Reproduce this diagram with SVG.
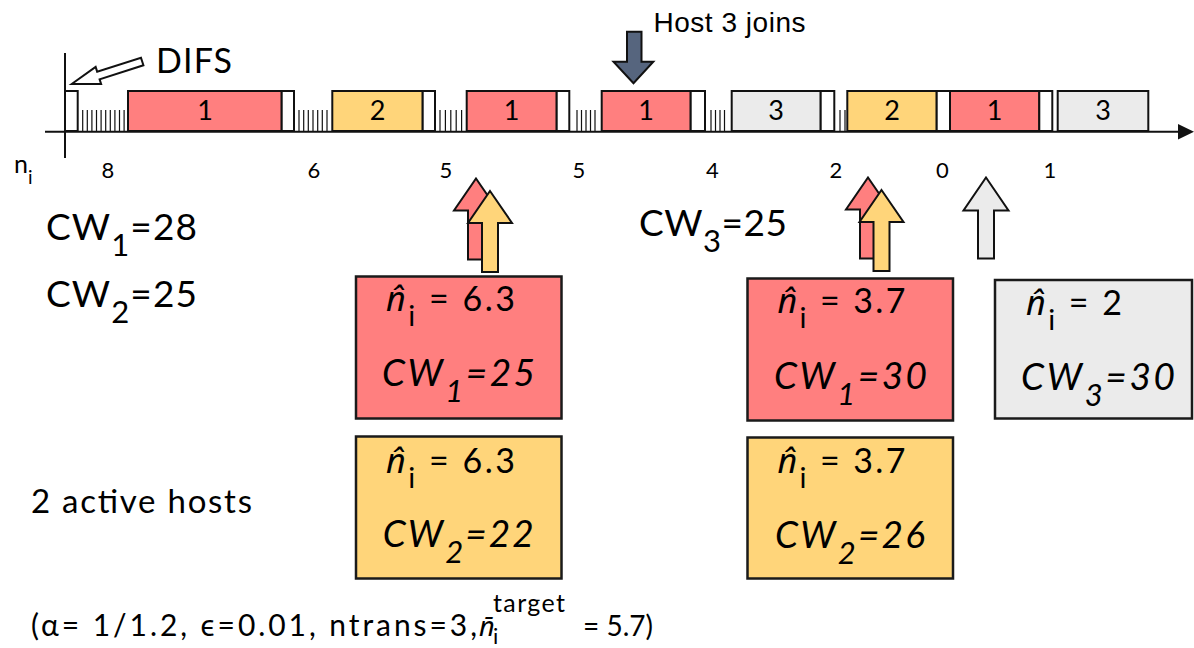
<svg xmlns="http://www.w3.org/2000/svg" width="1194" height="648" viewBox="0 0 1194 648">
<style>
.t{font-family:Lato,"Open Sans","Liberation Sans",sans-serif;fill:#000}
.it{font-style:italic}
.hat{font-family:"Noto Sans","DejaVu Sans",sans-serif;font-style:italic}
.bar{stroke:#111;stroke-width:2}
.slot{fill:#fff;stroke:#111;stroke-width:2}
.red{fill:#FF7F7F}
.yel{fill:#FFD57A}
.gry{fill:#EBEBEB}
.box{stroke:#1a1a1a;stroke-width:2.5}
.arr{stroke:#111;stroke-width:2;stroke-linejoin:miter}
.tick{stroke:#111;stroke-width:1.2;fill:none}
</style>
<rect width="1194" height="648" fill="#fff"/>

<g id="connectors">
  <line x1="45" y1="131.7" x2="1180" y2="131.7" stroke="#111" stroke-width="2"/>
  <polygon points="1178,124 1194,131.7 1178,139.5" fill="#111"/>
  <line x1="65" y1="53" x2="65" y2="158" stroke="#111" stroke-width="2"/>
  <path class="tick" d="M82.7 110V131M87.3 110V131M91.9 110V131M96.5 110V131M101.1 110V131M105.7 110V131M110.3 110V131M114.9 110V131M119.5 110V131M124.1 110V131
  M299 110V131M303.7 110V131M308.3 110V131M313 110V131M317.7 110V131M322.3 110V131M327 110V131
  M440 110V131M445.4 110V131M450.8 110V131M456.2 110V131M461.6 110V131
  M577 110V131M581.5 110V131M586 110V131M590.5 110V131M595 110V131
  M711 110V131M715.5 110V131M720 110V131M724.5 110V131
  M840 110V131M845 110V131"/>
  <polygon class="arr" fill="#fff" stroke-width="1.6" transform="translate(71.7,84) rotate(-17.7)" points="0,0 28,-9 28,-4 74,-4 74,4 28,4 28,9"/>
  <polygon class="arr" fill="#56657E" stroke-width="1.6" points="627,31.7 641.5,31.7 641.5,61.7 653.3,61.7 633.5,83.3 613.5,61.7 627,61.7"/>
  <polygon class="arr red" points="476,178.5 498,210.5 484,210.5 484,259.5 468,259.5 468,210.5 454,210.5"/>
  <polygon class="arr yel" points="490,191 512,223 498,223 498,272 482,272 482,223 468,223"/>
  <polygon class="arr red" points="868,177.5 890,209.5 876,209.5 876,258.5 860,258.5 860,209.5 846,209.5"/>
  <polygon class="arr yel" points="881.5,190 903.5,222 889.5,222 889.5,271 873.5,271 873.5,222 859.5,222"/>
  <polygon class="arr gry" points="986,177.5 1008.5,210.5 994,210.5 994,258.5 978,258.5 978,210.5 963.5,210.5"/>
</g>

<g id="difs"><rect class="slot" x="65" y="91" width="12.7" height="40"/>
<text class="t" x="156" y="72.5" font-size="34" textLength="76" lengthAdjust="spacing">DIFS</text></g>
<g id="host3label"><text x="653.5" y="31.7" font-family="Liberation Sans,Arial,sans-serif" font-size="28" textLength="152" lengthAdjust="spacing">Host 3 joins</text></g>

<g id="f1"><rect class="bar red" x="128" y="91" width="153.7" height="40"/><rect class="slot" x="281.7" y="91" width="12.3" height="40"/><text class="t" x="205" y="119.5" font-size="27" text-anchor="middle">1</text></g>
<g id="f2"><rect class="bar yel" x="332.3" y="91" width="90.4" height="40"/><rect class="slot" x="422.7" y="91" width="12.3" height="40"/><text class="t" x="377.5" y="119.5" font-size="27" text-anchor="middle">2</text></g>
<g id="f3"><rect class="bar red" x="466.7" y="91" width="90" height="40"/><rect class="slot" x="556.7" y="91" width="12.6" height="40"/><text class="t" x="511.7" y="119.5" font-size="27" text-anchor="middle">1</text></g>
<g id="f4"><rect class="bar red" x="601.7" y="91" width="89" height="40"/><rect class="slot" x="690.7" y="91" width="14.3" height="40"/><text class="t" x="646.2" y="119.5" font-size="27" text-anchor="middle">1</text></g>
<g id="f5"><rect class="bar gry" x="731.7" y="91" width="89" height="40"/><rect class="slot" x="820.7" y="91" width="13.6" height="40"/><text class="t" x="776.2" y="119.5" font-size="27" text-anchor="middle">3</text></g>
<g id="f6"><rect class="bar yel" x="847.3" y="91" width="89.4" height="40"/><rect class="slot" x="936.7" y="91" width="13.3" height="40"/><text class="t" x="892" y="119.5" font-size="27" text-anchor="middle">2</text></g>
<g id="f7"><rect class="bar red" x="950" y="91" width="89.3" height="40"/><rect class="slot" x="1039.3" y="91" width="13" height="40"/><text class="t" x="994.7" y="119.5" font-size="27" text-anchor="middle">1</text></g>
<g id="f8"><rect class="bar gry" x="1057.7" y="91" width="90.6" height="40"/><text class="t" x="1103" y="119.5" font-size="27" text-anchor="middle">3</text></g>

<g id="counters">
  <text class="t" x="14" y="173" font-size="25">n<tspan dy="11" font-size="19">i</tspan></text>
  <text class="t" x="108" y="177.5" font-size="22" text-anchor="middle">8</text>
  <text class="t" x="314" y="177.5" font-size="22" text-anchor="middle">6</text>
  <text class="t" x="446" y="177.5" font-size="22" text-anchor="middle">5</text>
  <text class="t" x="579" y="177.5" font-size="22" text-anchor="middle">5</text>
  <text class="t" x="712.5" y="177.5" font-size="22" text-anchor="middle">4</text>
  <text class="t" x="836" y="177.5" font-size="22" text-anchor="middle">2</text>
  <text class="t" x="942.5" y="177.5" font-size="22" text-anchor="middle">0</text>
  <text class="t" x="1050" y="177.5" font-size="22" text-anchor="middle">1</text>
</g>

<g id="cw-left">
  <text class="t" x="46" y="240" font-size="37" textLength="151" lengthAdjust="spacing">CW<tspan dy="16" font-size="31">1</tspan><tspan dy="-16">=28</tspan></text>
  <text class="t" x="46" y="307" font-size="37" textLength="151" lengthAdjust="spacing">CW<tspan dy="16" font-size="31">2</tspan><tspan dy="-16">=25</tspan></text>
  <text class="t" x="639" y="236" font-size="37" textLength="148" lengthAdjust="spacing">CW<tspan dy="16" font-size="31">3</tspan><tspan dy="-16">=25</tspan></text>
</g>

<g id="box-red1">
  <rect class="box red" x="356" y="276.5" width="205.5" height="142"/>
  <text class="t" x="386" y="311" font-size="34" textLength="129" lengthAdjust="spacing"><tspan class="hat">n̂</tspan><tspan dy="15" font-size="29">i</tspan><tspan dy="-15"> = 6.3</tspan></text>
  <text class="t it" x="382" y="386" font-size="37" textLength="153" lengthAdjust="spacing">CW<tspan dy="16" font-size="31">1</tspan><tspan dy="-16">=25</tspan></text>
</g>
<g id="box-yel1">
  <rect class="box yel" x="356" y="436.5" width="205.5" height="142"/>
  <text class="t" x="386" y="472.7" font-size="34" textLength="129" lengthAdjust="spacing"><tspan class="hat">n̂</tspan><tspan dy="15" font-size="29">i</tspan><tspan dy="-15"> = 6.3</tspan></text>
  <text class="t it" x="382.7" y="547" font-size="37" textLength="151" lengthAdjust="spacing">CW<tspan dy="16" font-size="31">2</tspan><tspan dy="-16">=22</tspan></text>
</g>
<g id="box-red2">
  <rect class="box red" x="747.5" y="278.5" width="205.5" height="142"/>
  <text class="t" x="777.5" y="313" font-size="34" textLength="128" lengthAdjust="spacing"><tspan class="hat">n̂</tspan><tspan dy="15" font-size="29">i</tspan><tspan dy="-15"> = 3.7</tspan></text>
  <text class="t it" x="774" y="389" font-size="37" textLength="153" lengthAdjust="spacing">CW<tspan dy="16" font-size="31">1</tspan><tspan dy="-16">=30</tspan></text>
</g>
<g id="box-yel2">
  <rect class="box yel" x="747.5" y="437.5" width="205.5" height="141"/>
  <text class="t" x="777.5" y="473.3" font-size="34" textLength="128" lengthAdjust="spacing"><tspan class="hat">n̂</tspan><tspan dy="15" font-size="29">i</tspan><tspan dy="-15"> = 3.7</tspan></text>
  <text class="t it" x="775" y="548.3" font-size="37" textLength="150" lengthAdjust="spacing">CW<tspan dy="16" font-size="31">2</tspan><tspan dy="-16">=26</tspan></text>
</g>
<g id="box-gry">
  <rect class="box gry" x="995" y="280" width="197" height="138.5"/>
  <text class="t" x="1026" y="315" font-size="34" textLength="96" lengthAdjust="spacing"><tspan class="hat">n̂</tspan><tspan dy="15" font-size="29">i</tspan><tspan dy="-15"> = 2</tspan></text>
  <text class="t it" x="1021" y="390" font-size="37" textLength="154" lengthAdjust="spacing">CW<tspan dy="16" font-size="31">3</tspan><tspan dy="-16">=30</tspan></text>
</g>

<g id="notes">
  <text class="t" x="31" y="513" font-size="33" textLength="221" lengthAdjust="spacing">2 active hosts</text>
  <text class="t" x="31" y="636" font-size="30" textLength="446" lengthAdjust="spacing">(α= 1/1.2, ϵ=0.01, ntrans=3,</text>
  <text class="hat" x="479" y="636" font-size="27">n̄</text>
  <text class="t" x="493" y="644" font-size="22">i</text>
  <text class="t" x="493" y="612" font-size="25" textLength="72" lengthAdjust="spacing">target</text>
  <text class="t" x="583" y="636" font-size="28">= 5.7)</text>
</g>
</svg>
